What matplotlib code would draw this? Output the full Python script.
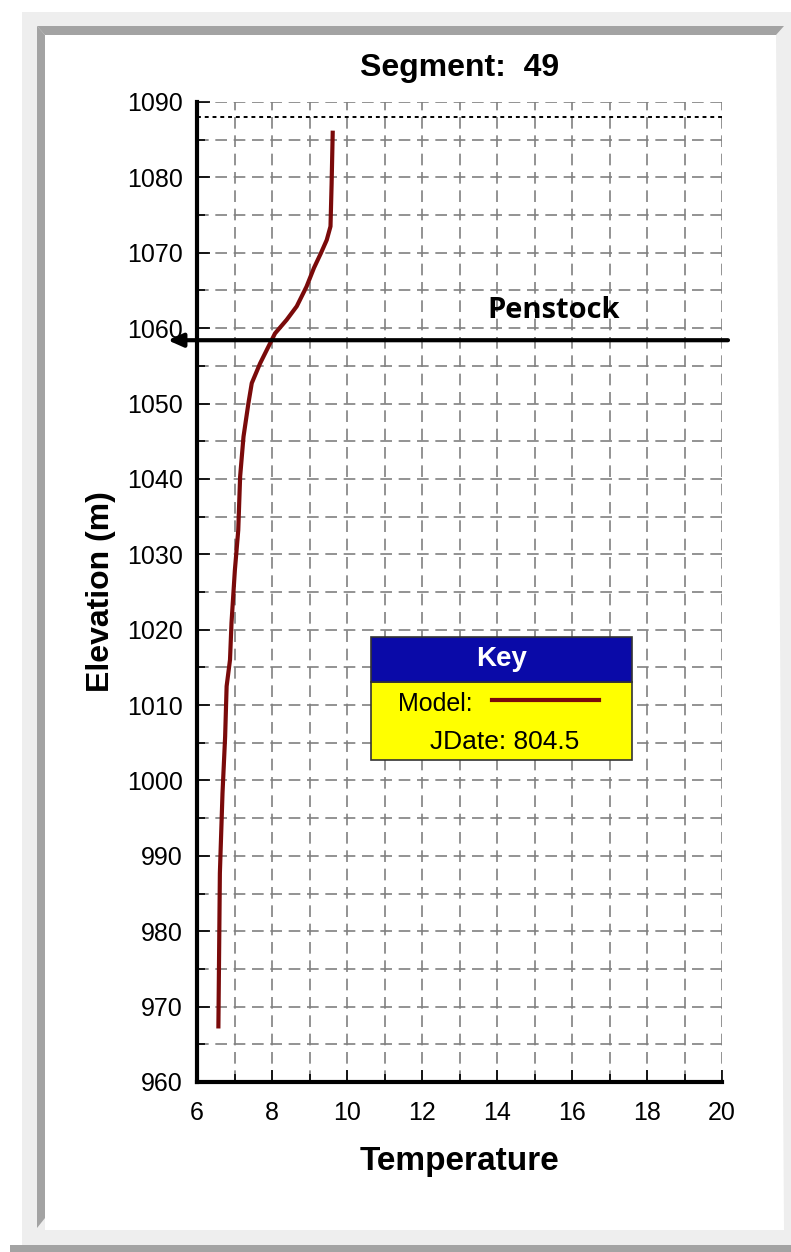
import matplotlib.pyplot as plt
from matplotlib.patches import Polygon, Rectangle

# Model temperature profile (deg C) vs elevation (m)
temperature = [9.62, 9.59, 9.56, 9.46, 9.30, 9.12, 8.92, 8.66, 8.39, 8.08, 7.99,
               7.68, 7.46, 7.37, 7.24, 7.15, 7.10, 7.01, 6.92, 6.88, 6.79, 6.75,
               6.68, 6.61, 6.57]
elevation = [1086.2, 1079.2, 1073.5, 1071.7, 1069.9, 1068.0, 1065.5, 1062.9, 1061.1,
             1059.3, 1058.4, 1055.3, 1052.7, 1050.0, 1045.6, 1040.3, 1033.2, 1027.9,
             1020.9, 1016.0, 1012.5, 1005.8, 998.3, 987.7, 967.1]

penstock_elev = 1058.4
water_surface = 1088.0
x_ticks = [6, 8, 10, 12, 14, 16, 18, 20]
y_ticks = list(range(960, 1091, 10))
jdate = 804.5
segment = 49

W, H = 791, 1252
FONT = ["Liberation Sans", "DejaVu Sans"]
plt.rcParams["font.family"] = FONT

fig = plt.figure(figsize=(W / 100, H / 100), dpi=100, facecolor="white")


def px(x, y):
    return (x / W, 1 - y / H)


def poly(points, color):
    fig.patches.append(Polygon([px(*p) for p in points], closed=True,
                               transform=fig.transFigure, facecolor=color,
                               edgecolor="none", zorder=-5))


# picture frame
poly([(22, 12), (791, 12), (791, 1252), (22, 1252)], "#eeeeee")
poly([(37, 26), (784, 26), (776, 35), (45, 35)], "#a3a3a3")
poly([(37, 26), (45, 35), (45, 1218), (37, 1228)], "#a3a3a3")
poly([(10, 1245), (791, 1245), (791, 1252), (10, 1252)], "#a3a3a3")
poly([(45, 35), (776, 35), (784, 1230), (45, 1230)], "#ffffff")

ax = fig.add_axes([197 / W, 1 - 1082 / H, 525 / W, 980 / H])
ax.set_facecolor("none")
ax.set_xlim(6, 20)
ax.set_ylim(960, 1090)

ax.set_xticks(x_ticks)
ax.set_xticks(range(6, 21), minor=True)
ax.set_yticks(y_ticks)
ax.set_yticks(range(960, 1091, 5), minor=True)
ax.tick_params(which="both", direction="in", color="black", width=1.2)
ax.tick_params(which="major", length=9, labelsize=18, pad=10)
ax.tick_params(which="minor", length=6)
ax.tick_params(axis="x", pad=14)

ax.grid(which="both", color="#808080", linestyle=(0, (7, 4)), linewidth=1.2)
for side in ("top", "right"):
    ax.spines[side].set_visible(False)
for side in ("left", "bottom"):
    ax.spines[side].set_linewidth(3)
    ax.spines[side].set_color("black")
ax.set_axisbelow(True)

ax.axhline(water_surface, color="black", linestyle=(0, (2, 2)), linewidth=1.4)

ax.plot(temperature, elevation, color="#7a0a0a", linewidth=3, solid_capstyle="butt",
        zorder=3)

# penstock arrow
ax.annotate("", xy=(5.22, penstock_elev), xytext=(20.16, penstock_elev),
            xycoords="data", annotation_clip=False,
            arrowprops=dict(arrowstyle="-|>,head_length=0.9,head_width=0.4",
                            color="black", linewidth=3, shrinkA=0, shrinkB=0))
ax.text(15.5, 1060.4, "Penstock", fontsize=21, fontweight="bold",
        family=["Open Sans", "DejaVu Sans"], ha="center", va="bottom")

ax.set_title(f"Segment:  {segment}", fontsize=23, fontweight="bold", pad=19)
ax.set_xlabel("Temperature", fontsize=24, fontweight="bold", labelpad=15)
ax.set_ylabel("Elevation (m)", fontsize=23, fontweight="bold", labelpad=8)

# key box
kx0, kx1 = 0.331, 0.829
ky0, kmid, ky1 = 0.3286, 0.4082, 0.4541
ax.add_patch(Rectangle((kx0, ky0), kx1 - kx0, kmid - ky0, transform=ax.transAxes,
                       facecolor="#ffff00", edgecolor="#333333", linewidth=1.2, zorder=5))
ax.add_patch(Rectangle((kx0, kmid), kx1 - kx0, ky1 - kmid, transform=ax.transAxes,
                       facecolor="#0a0aa8", edgecolor="#333333", linewidth=1.2, zorder=5))
ax.text((kx0 + kx1) / 2, (kmid + ky1) / 2, "Key", transform=ax.transAxes,
        color="white", fontsize=20, fontweight="bold", ha="center", va="center",
        zorder=6)
ax.text(0.383, 0.3855, "Model:", transform=ax.transAxes, fontsize=18,
        ha="left", va="center", zorder=6)
ax.plot([0.562, 0.765], [0.390, 0.390], transform=ax.transAxes, color="#7a0a0a",
        linewidth=3, zorder=6)
ax.text(0.444, 0.3465, f"JDate: {jdate}", transform=ax.transAxes, fontsize=19,
        ha="left", va="center", zorder=6)

fig.savefig("out.png", dpi=100, facecolor=fig.get_facecolor())
